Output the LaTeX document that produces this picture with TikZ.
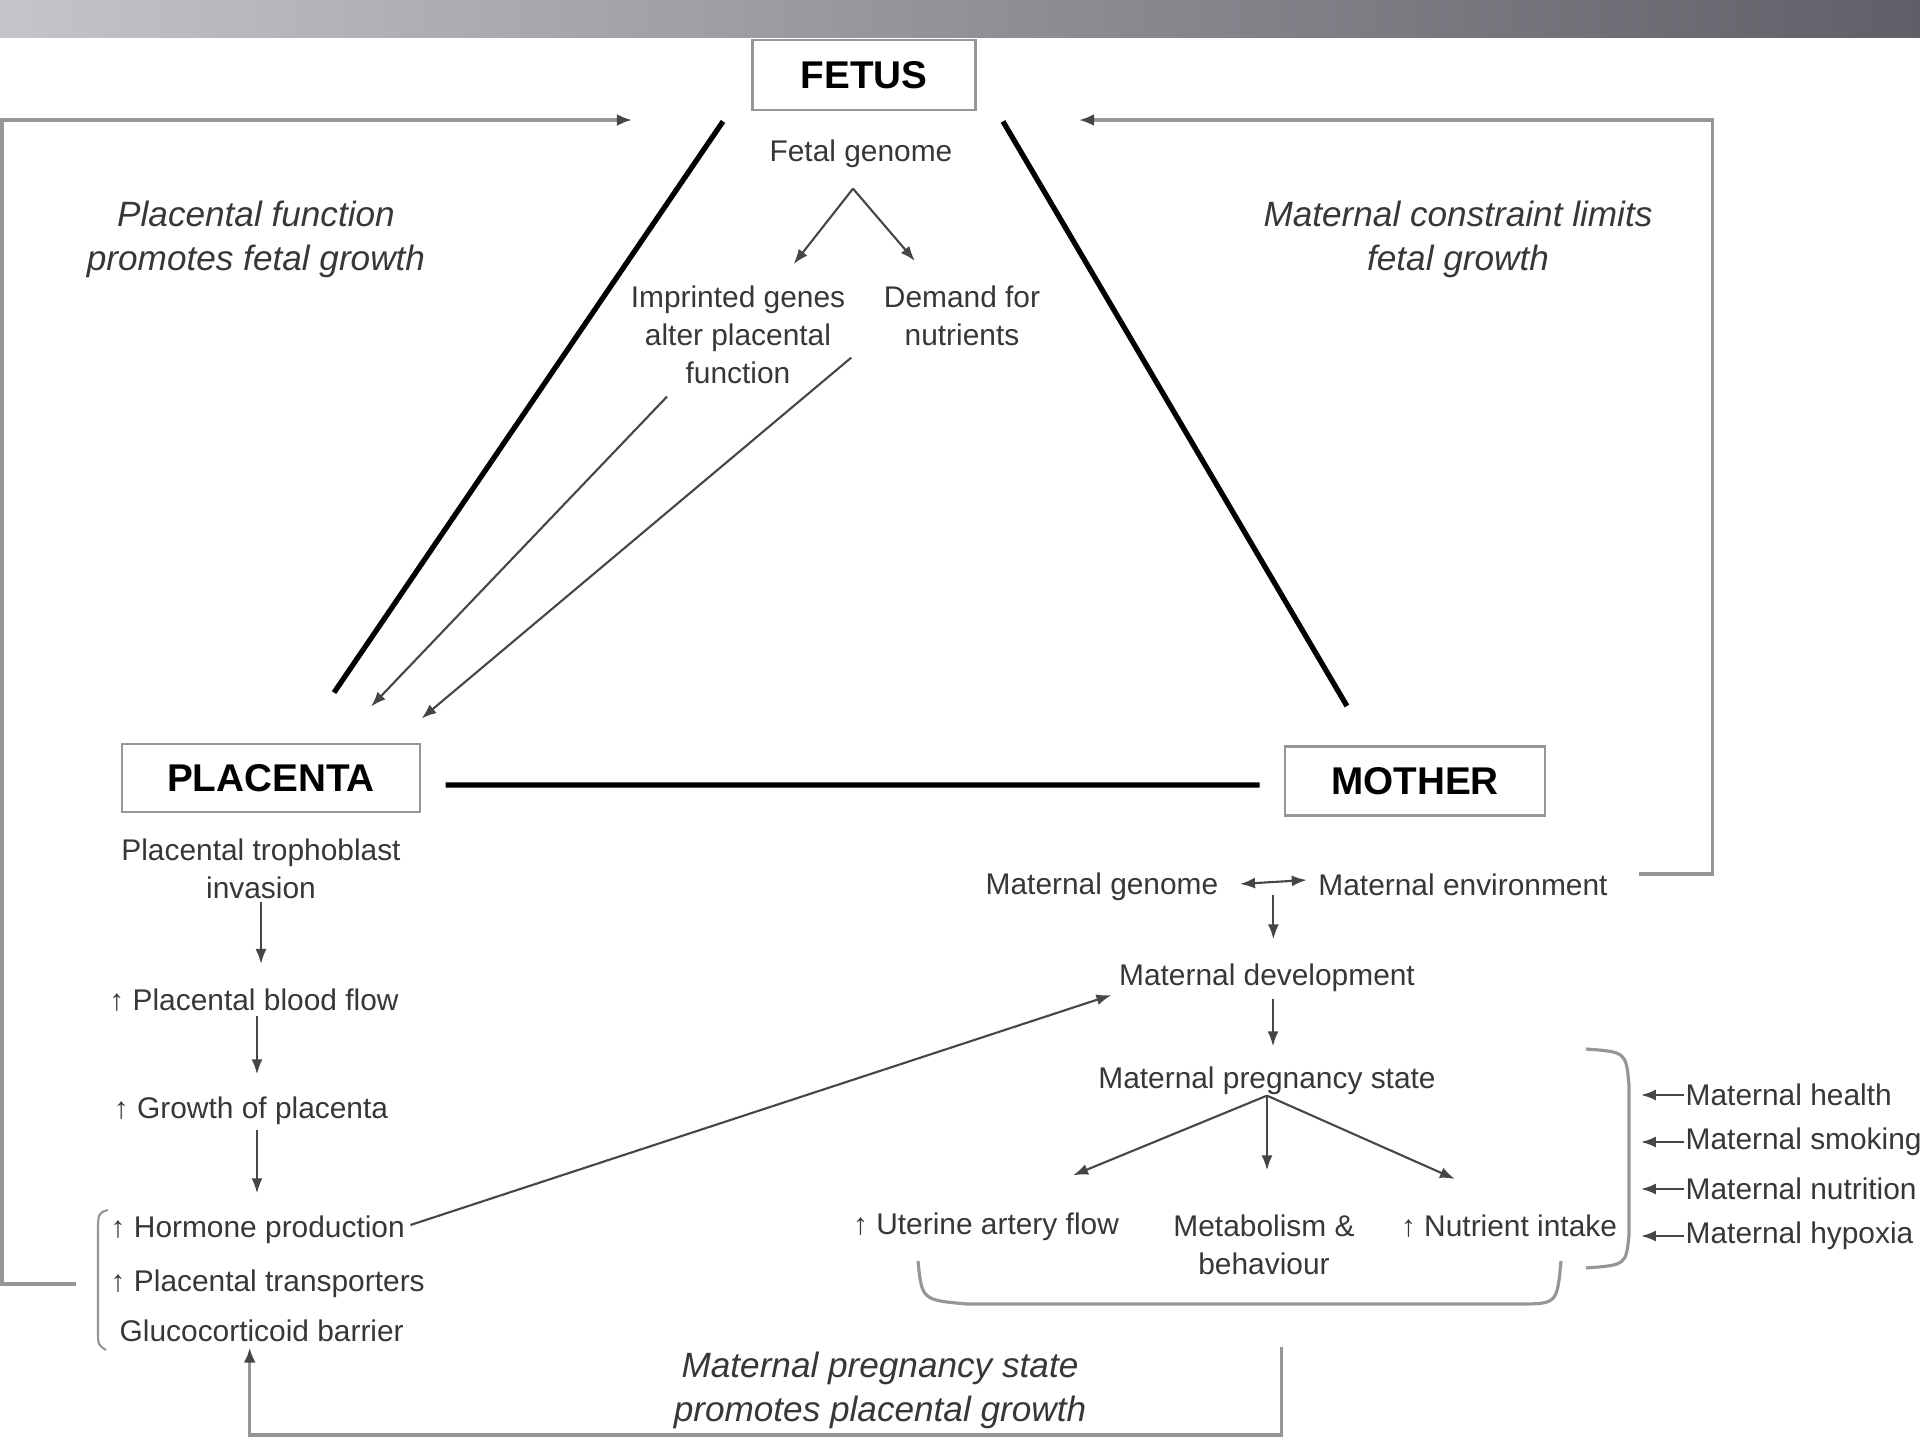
\documentclass[tikz,border=0pt]{standalone}
\usepackage{fontspec}
\setmainfont{Liberation Sans}
\usepackage{color}
\definecolor{mytextgray}{RGB}{55,55,55}
\definecolor{mylinegray}{RGB}{70,70,70}
\definecolor{myfeedgray}{RGB}{150,150,150}
\definecolor{myboxgray}{RGB}{150,150,150}
\definecolor{mybannerleft}{RGB}{196,196,202}
\definecolor{mybannerright}{RGB}{96,94,102}
\usepackage{tikz}
\usetikzlibrary{arrows.meta,positioning,calc}

\begin{document}
\begin{tikzpicture}[
  x=0.01cm,
  y=-0.01cm,
  mybox/.style={
    draw=myboxgray,
    line width=0.8pt,
    rectangle,
    inner sep=0pt,
    font=\fontsize{11}{13}\selectfont\bfseries
    },
  mytext/.style={
    text=mytextgray,
    inner sep=0pt,
    align=center,
    yshift=-0.2mm,
    font=\fontsize{8.5}{10.8}\selectfont
    },
  mylabel/.style={
    text=mytextgray,
    inner sep=0pt,
    align=center,
    yshift=-0.35mm,
    font=\fontsize{10}{12.5}\selectfont\itshape
    },
  myarrow/.style={
    draw=mylinegray,
    line width=0.6pt,
    -{Latex[length=1.5mm,width=1.1mm]}
    },
  mydouble/.style={
    draw=mylinegray,
    line width=0.6pt,
    {Latex[length=1.5mm,width=1.1mm]}-{Latex[length=1.5mm,width=1.1mm]}
    },
  myfeed/.style={
    draw=myfeedgray,
    line width=0.9pt
    },
  myfeedarrow/.style={
    myfeed,
    -{Latex[length=1.5mm,width=1.2mm,color=mylinegray]}
    },
  myside/.style={
    line width=1.5pt
    }
]

\useasboundingbox (0,0) rectangle (1920,1440);
\shade[left color=mybannerleft, right color=mybannerright] (0,0) rectangle (1920,38);

\node[mybox, minimum width=2.23cm, minimum height=0.7cm] at (864,75) (fetus) {FETUS};
\node[mybox, minimum width=2.98cm, minimum height=0.68cm] at (271,778) (placenta) {PLACENTA};
\node[mybox, minimum width=2.6cm, minimum height=0.69cm] at (1415,781) (mother) {MOTHER};

\node[mytext] at (861,152) (fgen) {Fetal genome};
\node[mytext] at (738,333) (impr) {Imprinted genes\\alter placental\\function};
\node[mytext] at (962,314) (demand) {Demand for\\nutrients};

\node[mylabel] at (256,236) (promote) {Placental function\\promotes fetal growth};
\node[mylabel] at (1458,236) (limit) {Maternal constraint limits\\fetal growth};
\node[mylabel] at (880,1387) (pstate) {Maternal pregnancy state\\promotes placental growth};

\node[mytext] at (261,867) (troph) {Placental trophoblast\\invasion};
\node[mytext] at (254,998) (blood) {↑ Placental blood\ flow};
\node[mytext] at (251,1109) (growth) {↑ Growth of placenta};
\node[mytext, anchor=west] at (110,1228) (hormone) {↑ Hormone production};
\node[mytext, anchor=west] at (110,1282) (transp) {↑ Placental transporters};
\node[mytext, anchor=west] at (119,1329) (gluco) {Glucocorticoid barrier};

\node[mytext] at (1102,885) (mgen) {Maternal genome};
\node[mytext] at (1463,883) (menv) {Maternal environment};
\node[mytext] at (1267,976) (mdev) {Maternal development};
\node[mytext] at (1267,1079) (mpreg) {Maternal pregnancy state};
\node[mytext] at (986,1225) (uterine) {↑ Uterine artery flow};
\node[mytext] at (1264,1243) (metab) {Metabolism \&\\behaviour};
\node[mytext] at (1509,1224) (nutr) {↑ Nutrient intake};

\foreach \Factor [count=\Fi from 0] in {health, smoking, nutrition, hypoxia}
  \node[mytext, anchor=west] at (1685,1093+47*\Fi) (f\Fi) {Maternal \Factor};
\foreach \Fi in {0,...,3}
  \draw[myarrow] ([xshift=-0.1mm]f\Fi.west) -- ++(-4.3mm,0);

\draw[myside] ([xshift=-2.8mm,yshift=-1mm]fetus.south west) -- ([xshift=6.3mm,yshift=5mm]placenta.north);
\draw[myside] ([xshift=2.6mm,yshift=-1mm]fetus.south east) -- ([xshift=-6.8mm,yshift=3.9mm]mother.north);
\draw[myside] ([xshift=2.4mm,yshift=-0.7mm]placenta.east) -- ([xshift=-2.4mm,yshift=-0.4mm]mother.west);

\coordinate[below=2mm of fgen.south, xshift=-0.8mm] (fg);
\draw[myarrow, shorten >=2.7mm] (fg) -- (impr);
\draw[myarrow, shorten >=3.2mm] (fg) -- (demand);

\draw[myarrow] ([xshift=-7.1mm,yshift=-1.2mm]impr.south) -- ([xshift=10mm,yshift=3.6mm]placenta.north);
\draw[myarrow] ([xshift=-3.2mm,yshift=-1.1mm]demand.south west) -- ([yshift=2.4mm]placenta.north east);

\draw[myarrow, shorten <=0.2mm, shorten >=2.4mm] (troph.south) -- (troph.south |- blood.north);
\draw[myarrow, shorten <=0.4mm, shorten >=2.2mm] ([xshift=0.3mm]blood.south) -- ([xshift=0.3mm]blood.south |- growth.north);
\draw[myarrow, shorten <=0.4mm, shorten >=2.2mm] ([xshift=0.6mm]growth.south) -- ([xshift=0.6mm]growth.south |- hormone.north);

\draw[myarrow] ([xshift=0.5mm,yshift=0.5mm]hormone.east) -- ([xshift=-0.7mm,yshift=-1.7mm]mdev.west);

\draw[mydouble] ([xshift=2.1mm,yshift=0.3mm]mgen.east) -- coordinate[pos=0.5] (mid) ([xshift=-1.1mm,yshift=0.5mm]menv.west);
\draw[myarrow, shorten >=2.4mm] ([yshift=-1.3mm]mid) -- (mid |- mdev.north);
\draw[myarrow, shorten <=0.6mm, shorten >=2mm] ([xshift=0.6mm]mdev.south) -- ([xshift=0.6mm]mdev.south |- mpreg.north);

\draw[myarrow] (mpreg.south) -- ([xshift=8.7mm,yshift=3.7mm]uterine.north);
\draw[myarrow, shorten >=4.4mm] (mpreg.south) -- (mpreg.south |- metab.north);
\draw[myarrow] (mpreg.south) -- ([xshift=-5.4mm,yshift=3.5mm]nutr.north);

\draw[myfeed] (918,1261) .. controls (922,1300) .. (967,1304) -- coordinate[pos=0.57] (mbrace) (1518,1304) .. controls (1557,1304) .. (1561,1261);
\draw[myfeed] (1586,1049) .. controls (1626,1052) .. (1629,1085) -- (1629,1235) .. controls (1626,1265) .. (1586,1268);
\draw[myfeed, line width=0.6pt] (108,1210) .. controls (98,1213) .. (98,1235) -- (98,1330) .. controls (98,1345) .. (106,1350);

\draw[myfeedarrow] ([xshift=-3.4mm]transp.west) -- ++(-74,0) |- ([xshift=-11.9mm,yshift=-4.5mm]fetus.west);
\draw[myfeedarrow] ([xshift=3.1mm,yshift=1.1mm]menv.east) -- ++(73,0) |- ([xshift=10.2mm,yshift=-4.5mm]fetus.east);
\draw[myfeedarrow] ([yshift=-4.3mm]mbrace) -- ++(0,88) -| ([xshift=-1.2mm,yshift=-0.5mm]gluco.south);

\end{tikzpicture}
\end{document}
